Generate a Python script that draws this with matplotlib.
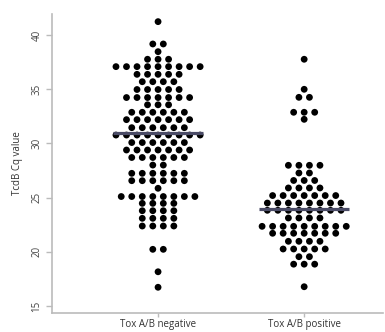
import numpy as np
import matplotlib.pyplot as plt

groups = ['Tox A/B negative', 'Tox A/B positive']

# row value -> number of dots in that row
neg_rows = [41.23, 39.17, 38.46, 37.76, 37.08, 36.37, 35.69, 34.97, 34.23, 33.56,
            32.87, 32.19, 31.45, 30.77, 30.08, 29.39, 28.70, 28.00, 27.24, 26.56,
            25.86, 25.10, 24.47, 23.79, 23.09, 22.38, 20.23, 18.16, 16.73]
neg_counts = [1, 2, 1, 3, 9, 5, 4, 5, 7, 3,
              6, 7, 6, 9, 6, 7, 6, 2, 6, 6,
              1, 8, 4, 4, 4, 4, 2, 1, 1]

pos_rows = [37.76, 34.99, 34.25, 32.87, 32.22, 27.98, 27.27, 26.58, 25.89, 25.19,
            24.50, 23.83, 23.12, 22.35, 21.71, 20.97, 20.26, 19.55, 18.86, 16.78]
pos_counts = [1, 1, 2, 3, 1, 4, 2, 3, 4, 7,
              8, 8, 4, 9, 7, 4, 5, 2, 3, 1]

medians = [31.0, 23.92]

plt.rcParams['font.family'] = ['Open Sans', 'DejaVu Sans']

fig = plt.figure(figsize=(3.85, 3.32), dpi=100)
ax = fig.add_axes([0.135, 0.057, 0.86, 0.901])

dx = 0.072


def dot_rows(center, rows, counts):
    xs, ys = [], []
    for v, n in zip(rows, counts):
        for i in range(n):
            xs.append(center + (i - (n - 1) / 2) * dx)
            ys.append(v)
    return xs, ys


for k, (rows, counts) in enumerate([(neg_rows, neg_counts), (pos_rows, pos_counts)]):
    xs, ys = dot_rows(k + 1, rows, counts)
    ax.scatter(xs, ys, s=24, color='black', edgecolors='none', zorder=2)
    ax.hlines(medians[k], k + 1 - 0.31, k + 1 + 0.31, color='#4a4b66', linewidth=2.3, zorder=3)

ax.set_xlim(0.274, 2.54)
ax.set_ylim(14.35, 41.94)
ax.set_xticks([1, 2])
ax.set_xticklabels(groups, fontsize=7, color='#333333')
ax.set_yticks([15, 20, 25, 30, 35, 40])
ax.set_yticklabels(['15', '20', '25', '30', '35', '40'], rotation=90, va='center',
                   fontsize=7, color='#444444')
ax.set_ylabel('TcdB Cq value', fontsize=7, color='#333333', labelpad=6)

for side in ['top', 'right']:
    ax.spines[side].set_visible(False)
for side in ['left', 'bottom']:
    ax.spines[side].set_color('#bbbbbb')
    ax.spines[side].set_linewidth(1.2)
ax.tick_params(axis='both', colors='#bbbbbb', length=4, width=1)
ax.tick_params(axis='x', labelcolor='#333333', length=3, pad=1.5)
ax.tick_params(axis='y', labelcolor='#444444', pad=3)

fig.savefig('out.png', dpi=100)
